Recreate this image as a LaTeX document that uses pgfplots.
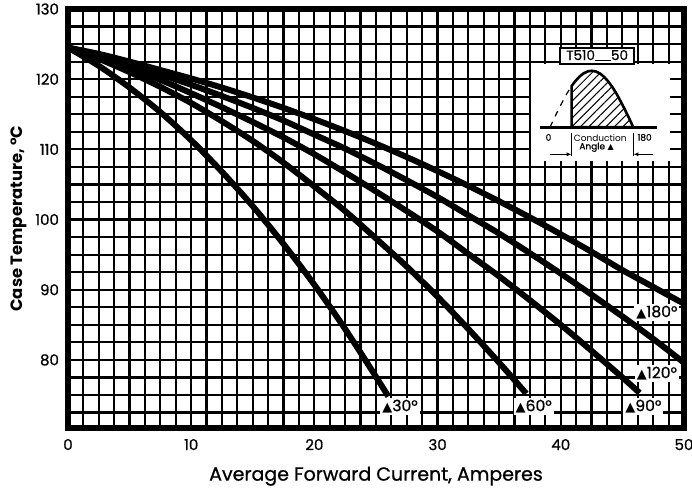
\documentclass[border=0pt]{standalone}
\usepackage{fontspec}
\setmainfont{Poppins}
\newfontfamily\medfont[FakeBold=0.8]{Poppins}
\newfontfamily\dejavu{DejaVu Sans}
\usepackage{pgfplots}
\pgfplotsset{compat=1.18}
\usetikzlibrary{patterns,patterns.meta,arrows.meta}
\newcommand{\tri}{{\dejavu\fontsize{6.5}{6.5}\selectfont ▲}}
\begin{document}
\begin{tikzpicture}
\begin{axis}[name=ax, scale only axis, width=308pt, height=209.5pt,
  xmin=0, xmax=50, ymin=70.3, ymax=130,
  xtick={0,10,...,50}, ytick={80,90,...,130},
  minor xtick={1.25,2.5,...,48.75}, minor ytick={72.5,75,...,127.5},
  grid=both,
  major grid style={black, line width=1.1pt},
  minor grid style={black, line width=1.1pt},
  major tick length=0pt, minor tick length=0pt,
  axis line style={line width=2.6pt},
  /pgf/number format/assume math mode=true,
  tick label style={font=\medfont\fontsize{7.5}{8}\selectfont},
  xticklabel style={yshift=-2pt},
  yticklabel style={xshift=-1pt},
  xlabel={Average Forward Current, Amperes},
  ylabel={\bfseries Case Temperature, °C},
  xlabel style={at={(axis description cs:0.5,-0.115)}, anchor=center, font=\medfont\fontsize{9.5}{11}\selectfont},
  ylabel style={at={(axis description cs:-0.08,0.5)}, anchor=center, font=\fontsize{8.2}{10}\selectfont},
]
% 30 deg
\addplot[black, line width=3pt, smooth] coordinates {
(0,124.5) (2.5,121.9) (5,118.8) (7.5,115.3) (10,111.3) (12.5,106.8) (15,101.9) (17.5,96.5) (20,90.7) (22.5,84.4) (25,77.6) (26,74.8)};
% 60 deg
\addplot[black, line width=3pt, smooth] coordinates {
(0,124.5) (2.5,122.9) (5,121.0) (7.5,118.9) (10,116.6) (12.5,114.0) (15,111.2) (17.5,108.1) (20,104.7) (22.5,101.2) (25,97.3) (27.5,93.3) (30,89.0) (32.5,84.4) (35,79.6) (37.2,75.2)};
% 90 deg
\addplot[black, line width=3pt, smooth] coordinates {
(0,124.5) (2.5,123.1) (5,121.5) (7.5,119.9) (10,118.0) (12.5,116.0) (15,113.9) (17.5,111.7) (20,109.3) (22.5,106.7) (25,104.0) (27.5,101.2) (30,98.3) (32.5,95.1) (35,91.9) (37.5,88.5) (40,85.0) (42.5,81.3) (45,77.5) (46.4,75.3)};
% 120 deg
\addplot[black, line width=3pt, smooth] coordinates {
(0,124.5) (2.5,123.4) (5,122.1) (7.5,120.7) (10,119.2) (12.5,117.6) (15,115.9) (17.5,114.1) (20,112.1) (22.5,110.1) (25,107.9) (27.5,105.6) (30,103.2) (32.5,100.6) (35,98.0) (37.5,95.2) (40,92.3) (42.5,89.3) (45,86.2) (47.5,83.0) (50,79.6)};
% 180 deg
\addplot[black, line width=3pt, smooth] coordinates {
(0,124.5) (2.5,123.6) (5,122.5) (7.5,121.3) (10,120.1) (12.5,118.8) (15,117.4) (17.5,115.9) (20,114.3) (22.5,112.6) (25,110.8) (27.5,108.9) (30,106.9) (32.5,104.8) (35,102.6) (37.5,100.3) (40,97.9) (42.5,95.4) (45,92.8) (47.5,90.4) (50,88.0)};
% curve labels
\node[fill=white, inner sep=1pt, font=\medfont\fontsize{7.8}{8}\selectfont] at (axis cs:26.95,73.4) {\tri30°};
\node[fill=white, inner sep=1pt, font=\medfont\fontsize{7.8}{8}\selectfont] at (axis cs:37.8,73.4) {\tri60°};
\node[fill=white, inner sep=1pt, font=\medfont\fontsize{7.8}{8}\selectfont] at (axis cs:46.7,73.4) {\tri90°};
\node[fill=white, inner sep=1pt, font=\medfont\fontsize{7.8}{8}\selectfont] at (axis cs:47.8,78.1) {\tri120°};
\node[fill=white, inner sep=1pt, font=\medfont\fontsize{7.8}{8}\selectfont] at (axis cs:47.8,86.8) {\tri180°};
% inset
\fill[white] (axis cs:37.6,108.3) rectangle (axis cs:48.9,122.2);
\node[draw, line width=0.9pt, fill=white, inner sep=0pt, minimum width=37pt, minimum height=8pt, font=\medfont\fontsize{6.8}{7}\selectfont] at (axis cs:42.95,123.35) {T510\rule[-0.6pt]{8pt}{0.6pt}50};
\addplot[black, line width=0.6pt, dashed, smooth] coordinates {
(39.12,113.15) (39.46,114.41) (39.80,115.64) (40.14,116.80) (40.47,117.88) (40.88,119.02)};
\addplot[black, line width=1.3pt, pattern={Lines[angle=45,distance=3pt,line width=0.5pt]}] coordinates {
(40.88,113.15) (40.88,119.02) (41.15,119.66) (41.49,120.32) (41.83,120.81) (42.17,121.10) (42.51,121.20) (42.84,121.10) (43.18,120.81) (43.52,120.32) (43.86,119.66) (44.20,118.84) (44.54,117.88) (44.87,116.80) (45.21,115.64) (45.55,114.41) (45.89,113.15)} -- cycle;
\draw[line width=1.3pt] (axis cs:38.3,113.15) -- (axis cs:47.8,113.15);
\draw[line width=0.6pt] (axis cs:40.88,112.4) -- (axis cs:40.88,109.0);
\draw[line width=0.6pt] (axis cs:45.89,112.4) -- (axis cs:45.89,109.0);
\draw[line width=0.6pt, -{Latex[length=2.5pt,width=2pt]}] (axis cs:39.12,109.3) -- (axis cs:40.88,109.3);
\draw[line width=0.6pt, -{Latex[length=2.5pt,width=2pt]}] (axis cs:47.5,109.3) -- (axis cs:45.89,109.3);
\node[font=\medfont\fontsize{4.5}{5}\selectfont, inner sep=0pt] at (axis cs:39.0,111.7) {0};
\node[font=\fontsize{4.5}{5}\selectfont, inner sep=0pt] at (axis cs:43.2,111.6) {Conduction};
\node[font=\medfont\fontsize{4.5}{5}\selectfont, inner sep=0pt] at (axis cs:42.9,110.3) {Angle {\dejavu\fontsize{4}{4}\selectfont ▲}};
\node[font=\medfont\fontsize{4.5}{5}\selectfont, inner sep=0pt] at (axis cs:46.8,111.7) {180};
\end{axis}
\pgfresetboundingbox
\path ([xshift=-34pt,yshift=-33.5pt]ax.south west) rectangle ([xshift=4pt,yshift=4.5pt]ax.north east);
\end{tikzpicture}
\end{document}
